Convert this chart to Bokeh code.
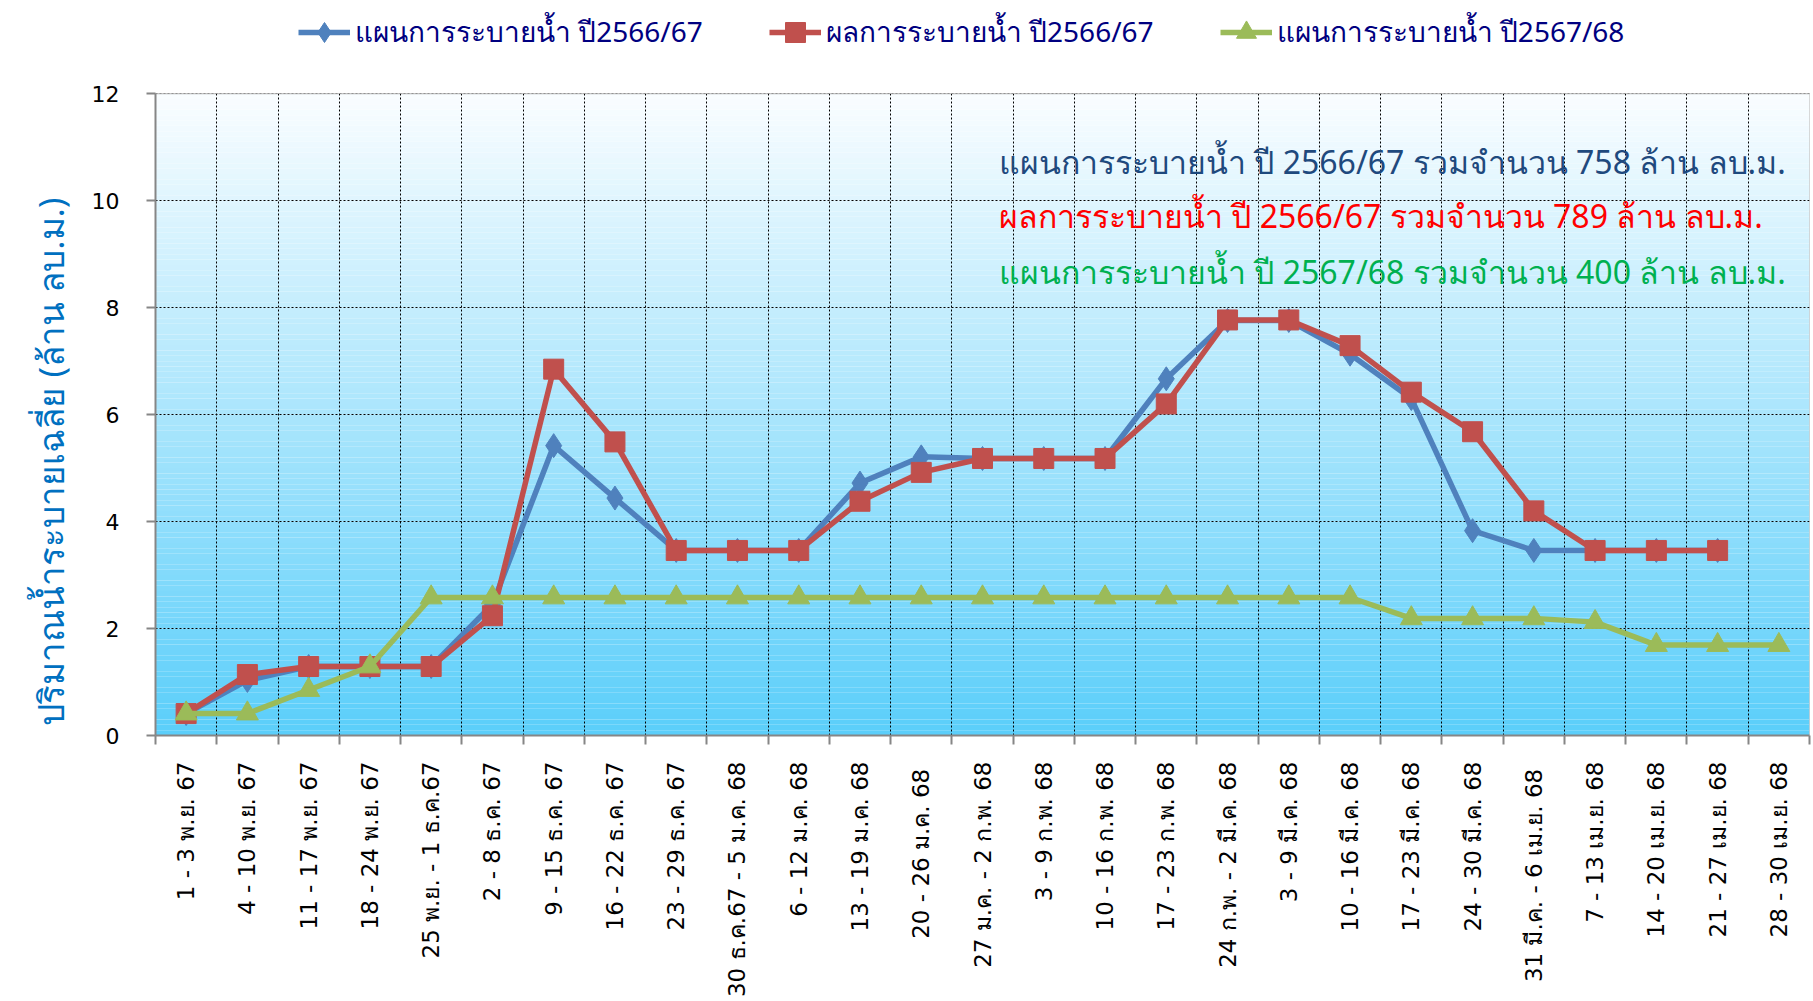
import math
from bokeh.plotting import figure
from bokeh.models import (ColumnDataSource, FixedTicker, Legend, LegendItem,
                          Label, BoxAnnotation, Range1d, Title)
from bokeh.embed import file_html
from bokeh.resources import INLINE

# ---------------- data ----------------
periods = [
    "1 - 3 พ.ย. 67", "4 - 10 พ.ย. 67", "11 - 17 พ.ย. 67", "18 - 24 พ.ย. 67",
    "25 พ.ย. - 1 ธ.ค.67", "2 - 8 ธ.ค. 67", "9 - 15 ธ.ค. 67", "16 - 22 ธ.ค. 67",
    "23 - 29 ธ.ค. 67", "30 ธ.ค.67 - 5 ม.ค. 68", "6 - 12 ม.ค. 68", "13 - 19 ม.ค. 68",
    "20 - 26  ม.ค. 68", "27 ม.ค. - 2 ก.พ. 68", "3 - 9 ก.พ. 68", "10 - 16 ก.พ. 68",
    "17 - 23 ก.พ. 68", "24 ก.พ. - 2 มี.ค. 68", "3 - 9 มี.ค. 68", "10 - 16 มี.ค. 68",
    "17 - 23 มี.ค. 68", "24 - 30 มี.ค. 68", "31 มี.ค. -  6 เม.ย. 68", "7 - 13 เม.ย. 68",
    "14 - 20 เม.ย. 68", "21 - 27 เม.ย. 68", "28 - 30 เม.ย. 68",
]

plan_6667 = [0.41, 1.03, 1.29, 1.29, 1.29, 2.45, 5.42, 4.44, 3.46, 3.46, 3.46,
             4.72, 5.21, 5.18, 5.18, 5.18, 6.67, 7.76, 7.76, 7.13, 6.30, 3.83,
             3.46, 3.46, 3.46, 3.46]
result_6667 = [0.41, 1.14, 1.29, 1.29, 1.29, 2.24, 6.85, 5.49, 3.46, 3.46, 3.46,
               4.38, 4.92, 5.18, 5.18, 5.18, 6.20, 7.77, 7.77, 7.29, 6.42, 5.68,
               4.20, 3.46, 3.46, 3.46]
plan_6768 = [0.41, 0.41, 0.85, 1.29, 2.58, 2.58, 2.58, 2.58, 2.58, 2.58, 2.58,
             2.58, 2.58, 2.58, 2.58, 2.58, 2.58, 2.58, 2.58, 2.58, 2.19, 2.19,
             2.19, 2.12, 1.69, 1.69, 1.69]

series_names = ["แผนการระบายน้ำ ปี2566/67", "ผลการระบายน้ำ ปี2566/67",
                "แผนการระบายน้ำ ปี2567/68"]
notes = ["แผนการระบายน้ำ ปี 2566/67 รวมจำนวน 758 ล้าน ลบ.ม.",
         "ผลการระบายน้ำ ปี 2566/67 รวมจำนวน 789 ล้าน ลบ.ม.",
         "แผนการระบายน้ำ ปี 2567/68 รวมจำนวน 400 ล้าน ลบ.ม."]
y_ticks = [0, 2, 4, 6, 8, 10, 12]
y_max = 12
y_title = "ปริมาณน้ำระบายเฉลี่ย   (ล้าน ลบ.ม.)"

# ---------------- figure ----------------
# The frame reaches the top of the canvas so that the legend (drawn inside
# the frame) is not clipped; the chart area itself is 0..12.
n = len(periods)
frame_h = 741
chart_top_px = 94
y_view_top = y_max * frame_h / (frame_h - chart_top_px)

p = figure(width=1813, height=1000, output_backend="svg", toolbar_location=None,
           x_range=Range1d(-0.5, n - 0.5), y_range=Range1d(0, y_view_top),
           min_border_left=155, min_border_right=4, min_border_top=0,
           min_border_bottom=259)
p.background_fill_color = "white"
p.border_fill_color = "white"
p.outline_line_color = None

# gradient background of the chart area
steps = 120
top_c = (250, 253, 255)
bot_c = (90, 206, 250)
for i in range(steps):
    t = (i + 0.5) / steps
    c = tuple(int(round(bot_c[k] + (top_c[k] - bot_c[k]) * t)) for k in range(3))
    p.add_layout(BoxAnnotation(bottom=y_max * i / steps, top=y_max * (i + 1) / steps,
                               fill_color="#%02x%02x%02x" % c, fill_alpha=1,
                               line_color=None, level="image"))

# axes
xt = FixedTicker(ticks=list(range(n)), minor_ticks=[i - 0.5 for i in range(n + 1)])
p.xaxis.ticker = xt
p.xaxis.major_label_overrides = {i: lab for i, lab in enumerate(periods)}
p.xaxis.major_label_orientation = math.pi / 2
p.xaxis.major_tick_out = 0
p.xaxis.major_tick_in = 0
p.xaxis.minor_tick_out = 9
p.xaxis.minor_tick_in = 0
p.xaxis.minor_tick_line_color = "#868686"
p.xaxis.minor_tick_line_width = 2
p.xaxis.axis_line_color = "#868686"
p.xaxis.axis_line_width = 2
p.xaxis.major_label_standoff = 17
p.xaxis.major_label_text_font = "DejaVu Sans"
p.xaxis.major_label_text_font_size = "23px"
p.xaxis.major_label_text_color = "black"

p.yaxis.ticker = FixedTicker(ticks=y_ticks)
p.yaxis.bounds = (0, y_max)
p.yaxis.major_tick_out = 9
p.yaxis.major_tick_in = 0
p.yaxis.minor_tick_line_color = None
p.yaxis.major_tick_line_color = "#868686"
p.yaxis.major_tick_line_width = 2
p.yaxis.axis_line_color = "#868686"
p.yaxis.axis_line_width = 2
p.yaxis.major_label_standoff = 27
p.yaxis.major_label_text_font = "DejaVu Sans"
p.yaxis.major_label_text_font_size = "22px"
p.yaxis.major_label_text_color = "black"

p.add_layout(Title(text=y_title, align="left", offset=10,
                   text_font="Noto Sans", text_font_style="normal",
                   text_font_size="35px", text_color="#0070C0", standoff=30),
             "left")

# grids
p.xgrid.ticker = xt
p.xgrid.grid_line_color = None
p.xgrid.minor_grid_line_color = "black"
p.xgrid.minor_grid_line_dash = "2 2"
p.xgrid.minor_grid_line_width = 1
p.ygrid.ticker = FixedTicker(ticks=y_ticks)
p.ygrid.grid_line_color = "black"
p.ygrid.grid_line_dash = "2 2"
p.ygrid.grid_line_width = 1

# hide grid above the chart area, then draw the chart border
p.add_layout(BoxAnnotation(bottom=y_max, fill_color="white", fill_alpha=1,
                           line_color=None, level="underlay"))
p.add_layout(BoxAnnotation(bottom=0, top=y_max, fill_alpha=0,
                           line_color="black", line_width=1, level="underlay"))

# series
xs_plan = list(range(len(plan_6667)))
xs_res = list(range(len(result_6667)))
xs_new = list(range(len(plan_6768)))
src_b = ColumnDataSource(dict(x=xs_plan, y=plan_6667))
src_r = ColumnDataSource(dict(x=xs_res, y=result_6667))
src_g = ColumnDataSource(dict(x=xs_new, y=plan_6768))

blue, red, green = "#4F81BD", "#C0504D", "#9BBB59"
lb = p.line("x", "y", source=src_b, line_color=blue, line_width=5.5)
mb = p.scatter("x", "y", source=src_b, marker="diamond", size=24,
               fill_color=blue, line_color=blue)
lr = p.line("x", "y", source=src_r, line_color=red, line_width=5.5)
mr = p.scatter("x", "y", source=src_r, marker="square", size=20,
               fill_color=red, line_color=red)
lg = p.line("x", "y", source=src_g, line_color=green, line_width=5.5)
mg = p.scatter("x", "y", source=src_g, marker="triangle", size=22,
               fill_color=green, line_color=green)

legend = Legend(items=[LegendItem(label=series_names[0], renderers=[lb, mb]),
                       LegendItem(label=series_names[1], renderers=[lr, mr]),
                       LegendItem(label=series_names[2], renderers=[lg, mg])],
                orientation="horizontal", location=(143, 678),
                glyph_width=52, glyph_height=50, label_standoff=5, spacing=66,
                padding=0, margin=0, border_line_color=None,
                background_fill_alpha=0,
                label_text_font="Noto Sans", label_text_font_size="28px",
                label_text_color="#000080")
p.add_layout(legend, "center")

# annotation texts
note_colors = ["#1F497D", "#FF0000", "#00B050"]
note_y = [10.74, 9.73, 8.67]
for txt, col, yy in zip(notes, note_colors, note_y):
    p.add_layout(Label(x=13.27, y=yy, text=txt, text_color=col,
                       text_font="Noto Sans", text_font_size="32px",
                       text_baseline="middle", text_align="left"))

open("out.html", "w").write(file_html(p, INLINE))
